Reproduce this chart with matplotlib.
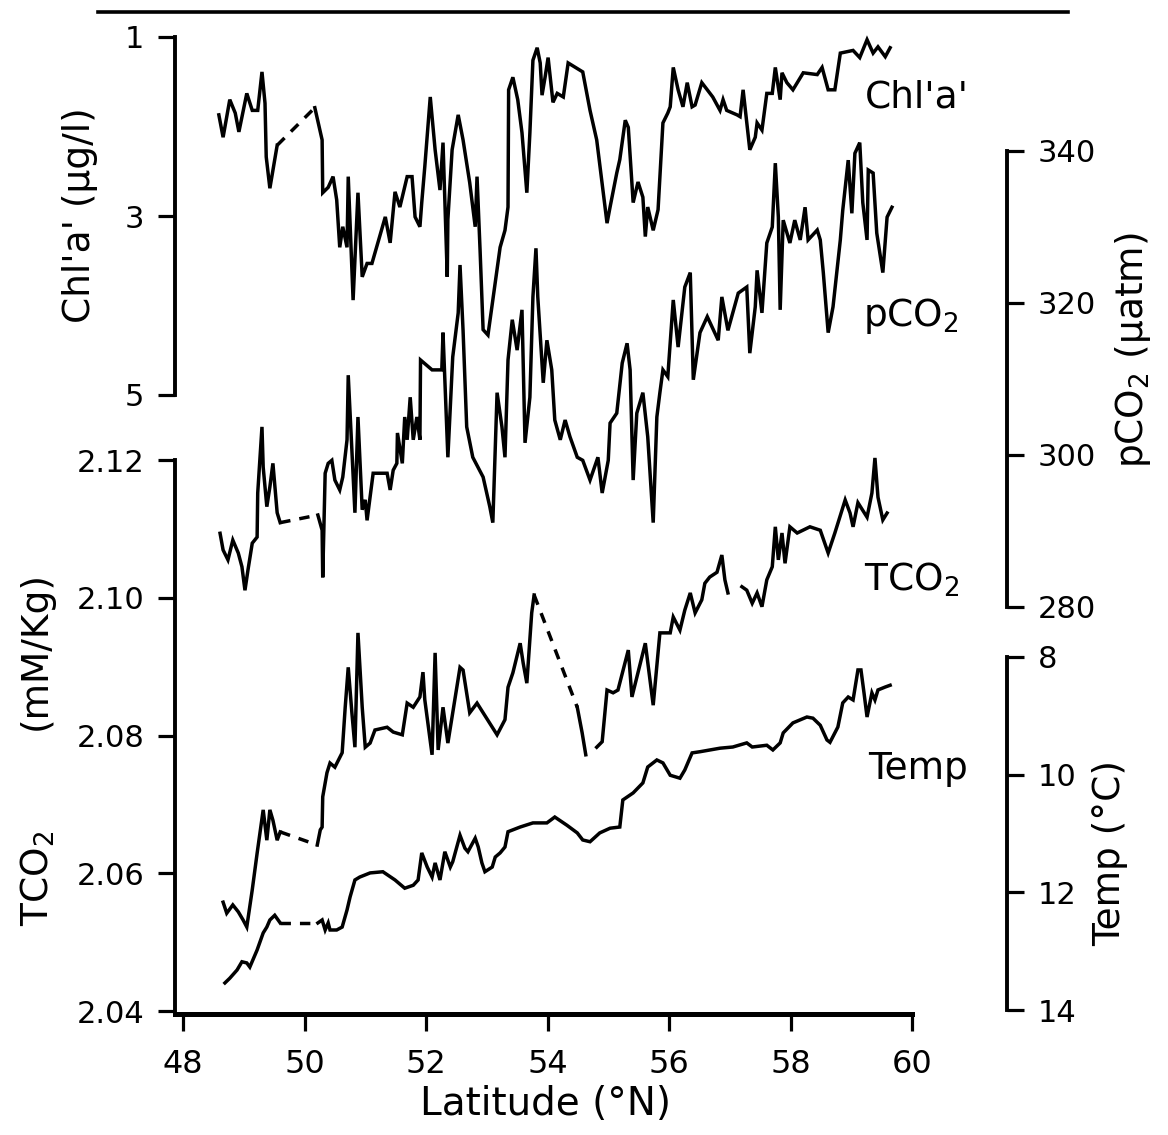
import numpy as np
import matplotlib
matplotlib.use("Agg")
import matplotlib.pyplot as plt
from matplotlib.lines import Line2D

nan = np.nan

# ---------------- data (latitude in degrees N) ----------------
chl_lat = [48.59, 48.66, 48.77, 48.86, 48.92, 49.05, 49.14, 49.23, 49.30, 49.35, 49.37, 49.43, 49.55, nan,
           50.17, 50.29, 50.30, 50.39, 50.47, 50.53, 50.58, 50.63, 50.70, 50.72, 50.80, 50.88, 50.95, 51.03,
           51.11, 51.33, 51.41, 51.49, 51.57, 51.69, 51.77, 51.82, 51.90, 51.93, 51.98, 52.07, 52.15, 52.23,
           52.28, 52.35, 52.36, 52.43, 52.53, 52.61, 52.72, 52.81, 52.84, 52.89, 52.94, 53.02, 53.10, 53.22,
           53.30, 53.35, 53.36, 53.43, 53.51, 53.58, 53.66, 53.71, 53.76, 53.83, 53.88, 53.91, 53.96, 54.01,
           54.09, 54.16, 54.26, 54.34, 54.53, 54.58, 54.70, 54.81, 54.98, 55.03, 55.14, 55.19, 55.28, 55.33,
           55.41, 55.49, 55.57, 55.61, 55.65, 55.74, 55.82, 55.90, 55.98, 56.02, 56.07, 56.15, 56.23, 56.30,
           56.38, 56.43, 56.54, 56.72, 56.84, 56.89, 56.95, 57.12, 57.17, 57.22, 57.33, 57.42, 57.45, 57.53,
           57.61, 57.70, 57.75, 57.83, 57.86, 57.94, 58.04, 58.21, 58.44, 58.52, 58.62, 58.73, 58.82, 59.03,
           59.14, 59.26, 59.36, 59.44, 59.56, 59.64]
chl_val = [1.87, 2.12, 1.70, 1.85, 2.06, 1.63, 1.82, 1.82, 1.39, 1.74, 2.34, 2.69, 2.21, nan,
           1.79, 2.15, 2.74, 2.68, 2.56, 2.82, 3.35, 3.12, 3.35, 2.56, 3.94, 2.74, 3.68, 3.53,
           3.53, 3.01, 3.30, 2.73, 2.90, 2.56, 2.56, 3.01, 3.12, 2.85, 2.45, 1.67, 2.26, 2.71,
           2.18, 3.68, 3.04, 2.26, 1.87, 2.15, 2.63, 3.12, 2.56, 3.38, 4.27, 4.33, 3.94, 3.35,
           3.16, 2.90, 1.59, 1.45, 1.70, 2.07, 2.74, 2.07, 1.26, 1.12, 1.29, 1.65, 1.45, 1.23,
           1.73, 1.63, 1.67, 1.29, 1.37, 1.39, 1.82, 2.15, 3.08, 2.90, 2.52, 2.37, 1.93, 2.01,
           2.85, 2.62, 2.79, 3.23, 2.90, 3.16, 2.93, 1.96, 1.85, 1.78, 1.34, 1.59, 1.78, 1.51,
           1.78, 1.76, 1.51, 1.67, 1.82, 1.70, 1.82, 1.87, 1.89, 1.59, 2.26, 2.12, 1.96, 2.04,
           1.63, 1.63, 1.34, 1.70, 1.40, 1.51, 1.59, 1.40, 1.42, 1.34, 1.59, 1.59, 1.18, 1.15,
           1.23, 1.03, 1.18, 1.11, 1.22, 1.12]
chl_gaps = ["dashed"]

pco2_lat = [48.61, 48.66, 48.74, 48.82, 48.91, 48.97, 49.02, 49.07, 49.14, 49.22, 49.23, 49.30, 49.32,
            49.38, 49.43, 49.48, 49.55, 49.60, nan,
            50.22, 50.29, 50.30, 50.34, 50.39, 50.45, 50.50, 50.58, 50.63, 50.70, 50.72, 50.78, 50.83,
            50.88, 50.95, 51.00, 51.03, 51.08, 51.13, 51.36, 51.41, 51.46, 51.52, 51.53, 51.61, 51.65,
            51.69, 51.74, 51.79, 51.85, 51.90, 51.91, 52.10, 52.26, 52.28, 52.36, 52.44, 52.53, 52.56,
            52.61, 52.67, 52.77, 52.94, 53.05, 53.10, 53.17, 53.25, 53.30, 53.35, 53.42, 53.50, 53.58,
            53.63, 53.71, 53.76, 53.81, 53.84, 53.93, 53.99, 54.07, 54.12, 54.21, 54.29, 54.37, 54.49,
            54.58, 54.70, 54.83, 54.90, 55.00, 55.03, 55.14, 55.23, 55.31, 55.36, 55.41, 55.47, 55.57,
            55.65, 55.74, 55.80, 55.85, 55.90, 55.98, 56.07, 56.15, 56.26, 56.35, 56.40, 56.51, 56.63,
            56.81, 56.87, 56.97, 57.14, 57.28, 57.33, 57.42, 57.45, 57.53, 57.61, 57.70, 57.75, 57.80,
            57.83, 57.88, 57.99, 58.07, 58.16, 58.24, 58.29, 58.44, 58.49, 58.54, 58.62, 58.70, 58.82,
            58.86, 58.95, 59.01, 59.06, 59.14, 59.19, 59.26, 59.28, 59.36, 59.42, 59.52, 59.59, 59.67]
pco2_val = [289.7, 287.5, 286.2, 288.8, 287.1, 285.3, 282.2, 284.9, 288.4, 289.2, 295.0, 303.7, 298.4,
            293.2, 295.8, 298.9, 292.4, 291.1, nan,
            292.1, 290.1, 283.9, 297.6, 298.9, 299.3, 296.7, 295.4, 297.1, 302.0, 310.5, 300.7, 292.4,
            305.0, 292.8, 294.1, 291.4, 294.5, 297.6, 297.6, 295.4, 298.0, 298.9, 302.9, 298.9, 305.0,
            302.0, 307.6, 302.0, 305.0, 302.0, 312.5, 311.2, 311.2, 316.1, 299.7, 312.9, 318.7, 325.0,
            316.4, 303.7, 299.7, 297.1, 293.2, 291.1, 308.2, 303.7, 299.7, 312.5, 317.8, 313.8, 319.1,
            301.6, 307.6, 320.8, 327.2, 320.8, 309.5, 315.1, 311.2, 304.6, 302.0, 304.6, 302.4, 299.7,
            299.3, 296.7, 299.7, 295.0, 299.3, 304.2, 305.5, 312.1, 314.7, 311.2, 296.7, 305.5, 308.2,
            302.4, 291.1, 305.0, 308.2, 311.2, 310.3, 320.4, 314.2, 322.1, 324.0, 309.9, 316.1, 318.2,
            315.1, 320.8, 316.4, 321.3, 322.1, 313.4, 319.5, 324.3, 318.7, 327.9, 330.0, 338.4, 331.3,
            319.1, 330.9, 327.9, 330.9, 328.3, 332.6, 328.3, 329.6, 328.3, 324.0, 316.1, 319.5, 328.3,
            332.2, 338.8, 331.8, 339.7, 341.1, 333.2, 328.3, 337.5, 337.1, 329.2, 324.0, 331.3, 332.6]
pco2_gaps = ["dashed"]

tco2_lat = [48.66, 48.72, 48.82, 48.91, 48.99, 49.05, 49.14, 49.22, 49.32, 49.38, 49.43, 49.48, 49.55,
            49.60, nan,
            50.21, 50.26, 50.29, 50.30, 50.37, 50.42, 50.50, 50.62, 50.67, 50.72, 50.78, 50.83, 50.88,
            50.95, 51.00, 51.08, 51.16, 51.36, 51.46, 51.61, 51.69, 51.79, 51.90, 51.95, 51.98, 52.10,
            52.15, 52.20, 52.28, 52.36, 52.44, 52.56, 52.61, 52.72, 52.84, 53.17, 53.30, 53.35, 53.43,
            53.55, 53.60, 53.66, 53.74, 53.78, nan,
            54.49, 54.57, 54.63, nan,
            54.81, 54.90, 54.98, 55.08, 55.16, 55.33, 55.39, 55.61, 55.74, 55.85, 56.02, 56.07, 56.18,
            56.26, 56.35, 56.43, 56.54, 56.59, 56.67, 56.79, 56.87, 56.92, 56.97, nan,
            57.20, 57.28, 57.37, 57.45, 57.53, 57.61, 57.70, 57.75, 57.80, 57.86, 57.91, 57.99, 58.11,
            58.32, 58.49, 58.62, 58.73, 58.90, 58.98, 59.03, 59.11, 59.26, 59.34, 59.39, 59.44, 59.52,
            59.59]
tco2_val = [2.0558, 2.0542, 2.0554, 2.0544, 2.0532, 2.0522, 2.0576, 2.0629, 2.0692, 2.0648, 2.0692,
            2.0677, 2.0648, 2.0660, nan,
            2.0641, 2.0663, 2.0667, 2.0711, 2.0746, 2.0760, 2.0754, 2.0775, 2.0841, 2.0899, 2.0833,
            2.0783, 2.0949, 2.0841, 2.0783, 2.0789, 2.0808, 2.0812, 2.0805, 2.0801, 2.0847, 2.0841,
            2.0856, 2.0892, 2.0852, 2.0772, 2.0920, 2.0779, 2.0841, 2.0789, 2.0833, 2.0899, 2.0895,
            2.0833, 2.0847, 2.0801, 2.0823, 2.0870, 2.0891, 2.0934, 2.0905, 2.0876, 2.0978, 2.1004, nan,
            2.0841, 2.0804, 2.0772, nan,
            2.0783, 2.0791, 2.0866, 2.0862, 2.0866, 2.0924, 2.0856, 2.0934, 2.0844, 2.0949, 2.0949,
            2.0972, 2.0953, 2.0982, 2.1007, 2.0978, 2.0997, 2.1021, 2.1030, 2.1037, 2.1062, 2.1026,
            2.1007, nan,
            2.1016, 2.1011, 2.0992, 2.1007, 2.0987, 2.1026, 2.1045, 2.1103, 2.1055, 2.1094, 2.1050,
            2.1103, 2.1094, 2.1103, 2.1098, 2.1065, 2.1094, 2.1142, 2.1123, 2.1103, 2.1138, 2.1117,
            2.1152, 2.1203, 2.1146, 2.1113, 2.1123]
tco2_gaps = ["dashed", "dashed", "none", "none"]

temp_lat = [48.69, 48.77, 48.89, 48.97, 49.05, 49.10, 49.22, 49.32, 49.38, 49.43, 49.51, 49.60, nan,
            50.22, 50.29, 50.34, 50.39, 50.42, 50.53, 50.62, 50.70, 50.75, 50.83, 50.91, 51.08, 51.29,
            51.49, 51.65, 51.79, 51.87, 51.93, 52.02, 52.10, 52.15, 52.23, 52.31, 52.40, 52.44, 52.56,
            52.64, 52.69, 52.81, 52.86, 52.92, 52.97, 53.09, 53.14, 53.22, 53.30, 53.35, 53.55, 53.76,
            53.99, 54.12, 54.32, 54.49, 54.58, 54.70, 54.86, 55.03, 55.19, 55.24, 55.41, 55.57, 55.65,
            55.80, 55.90, 56.02, 56.18, 56.26, 56.38, 56.51, 56.84, 57.05, 57.28, 57.37, 57.61, 57.71,
            57.83, 57.88, 58.04, 58.27, 58.37, 58.49, 58.60, 58.65, 58.78, 58.86, 58.95, 59.03, 59.11,
            59.16, 59.21, 59.26, 59.34, 59.39, 59.44, 59.56, 59.64]
temp_val = [13.54, 13.46, 13.32, 13.18, 13.20, 13.27, 12.98, 12.69, 12.59, 12.47, 12.39, 12.52, nan,
            12.52, 12.47, 12.64, 12.52, 12.64, 12.64, 12.59, 12.30, 12.08, 11.79, 11.74, 11.67, 11.65,
            11.79, 11.93, 11.88, 11.79, 11.33, 11.57, 11.74, 11.50, 11.79, 11.31, 11.57, 11.48, 11.03,
            11.25, 11.31, 11.08, 11.23, 11.50, 11.65, 11.57, 11.40, 11.33, 11.23, 10.97, 10.89, 10.82,
            10.82, 10.72, 10.86, 10.99, 11.11, 11.14, 10.99, 10.91, 10.89, 10.43, 10.31, 10.14, 9.87,
            9.75, 9.80, 10.01, 10.06, 9.92, 9.63, 9.61, 9.55, 9.53, 9.46, 9.53, 9.50, 9.58,
            9.46, 9.29, 9.12, 9.02, 9.04, 9.16, 9.41, 9.45, 9.19, 8.78, 8.68, 8.73, 8.22,
            8.22, 8.61, 9.02, 8.61, 8.73, 8.56, 8.51, 8.48]
temp_gaps = ["dashed"]

x_ticks = [48, 50, 52, 54, 56, 58, 60]
chl_ticks = [1, 3, 5]
tco2_ticks = [2.04, 2.06, 2.08, 2.10, 2.12]
tco2_ticklabels = ["2.04", "2.06", "2.08", "2.10", "2.12"]
pco2_ticks = [280, 300, 320, 340]
temp_ticks = [8, 10, 12, 14]

# ---------------- layout ----------------
plt.rcParams["font.family"] = ["DejaVu Sans"]
W, H = 1168, 1135
fig = plt.figure(figsize=(W / 100, H / 100), dpi=100)
fig.patch.set_facecolor("white")

L, R, T, B = 175, 912, 20, 1014
rect = [L / W, 1 - B / H, (R - L) / W, (B - T) / H]


def lim(v1, p1, v2, p2, a, b):
    s = (v2 - v1) / (p2 - p1)
    return v1 + (a - p1) * s, v1 + (b - p1) * s


SPW = 2.8
LW = 2.5
TICK = dict(direction="out", length=12, width=2.3, labelsize=22, pad=10, colors="black")


def style(a, keep):
    a.patch.set_visible(False)
    for s in ["top", "right", "left", "bottom"]:
        a.spines[s].set_visible(s in keep)
        a.spines[s].set_linewidth(SPW)


def draw(a, lat, val, gaps):
    lat = np.asarray(lat, float)
    val = np.asarray(val, float)
    a.plot(lat, val, color="black", lw=LW, solid_joinstyle="miter")
    idx = np.where(np.isnan(lat))[0]
    for k, i in enumerate(idx):
        if gaps[k] == "dashed":
            a.plot([lat[i - 1], lat[i + 1]], [val[i - 1], val[i + 1]], color="black",
                   lw=LW, linestyle=(0, (3.0, 2.6)))


# TCO2 axes (also carries the latitude axis)
ax = fig.add_axes(rect)
style(ax, ["left", "bottom"])
ax.spines["bottom"].set_linewidth(3.6)
ax.set_xlim(*lim(48, 183, 60, 912, L, R))
ax.set_ylim(*lim(2.04, 1011, 2.12, 460, B, T))
ax.spines["left"].set_bounds(ax.get_ylim()[0], 2.12)
ax.set_xticks(x_ticks)
ax.set_xticklabels([str(v) for v in x_ticks])
ax.set_yticks(tco2_ticks)
ax.set_yticklabels(tco2_ticklabels)
ax.tick_params(axis="both", **TICK)
ax.tick_params(axis="x", pad=13, labelsize=23)
draw(ax, tco2_lat, tco2_val, tco2_gaps)

# Chl'a' axes
ax_c = fig.add_axes(rect, sharex=ax)
style(ax_c, ["left"])
ax_c.set_ylim(*lim(1, 37, 5, 395, B, T))
ax_c.spines["left"].set_bounds(1, 5)
ax_c.set_yticks(chl_ticks)
ax_c.set_yticklabels([str(v) for v in chl_ticks])
ax_c.tick_params(axis="y", **TICK)
ax_c.tick_params(axis="x", bottom=False, labelbottom=False)
draw(ax_c, chl_lat, chl_val, chl_gaps)

# right-hand spines position
rpos = (1007 - L) / (R - L)

# pCO2 axes
ax_p = fig.add_axes(rect, sharex=ax)
style(ax_p, ["right"])
ax_p.spines["right"].set_position(("axes", rpos))
ax_p.yaxis.tick_right()
ax_p.set_ylim(*lim(280, 607, 340, 151, B, T))
ax_p.spines["right"].set_bounds(280, 340)
ax_p.set_yticks(pco2_ticks)
ax_p.set_yticklabels([str(v) for v in pco2_ticks])
ax_p.tick_params(axis="y", **TICK)
ax_p.tick_params(axis="x", bottom=False, labelbottom=False)
draw(ax_p, pco2_lat, pco2_val, pco2_gaps)

# Temperature axes
ax_t = fig.add_axes(rect, sharex=ax)
style(ax_t, ["right"])
ax_t.spines["right"].set_position(("axes", rpos))
ax_t.yaxis.tick_right()
ax_t.set_ylim(*lim(8, 657, 14, 1010, B, T))
ax_t.spines["right"].set_bounds(8, 14)
ax_t.set_yticks(temp_ticks)
ax_t.set_yticklabels([str(v) for v in temp_ticks])
ax_t.tick_params(axis="y", **TICK)
ax_t.tick_params(axis="x", bottom=False, labelbottom=False)
draw(ax_t, temp_lat, temp_val, temp_gaps)


def ftext(px, py, s, **kw):
    fig.text(px / W, 1 - py / H, s, **kw)


# axis titles
ftext(546, 1104, "Latitude (°N)", fontsize=28, ha="center", va="center")
ftext(80, 215, "Chl'a' (μg/l)", fontsize=27, rotation=90, ha="center", va="center")
ftext(38, 878, "TCO$_2$", fontsize=27, rotation=90, ha="center", va="center")
ftext(36, 650, "(mM/Kg)", fontsize=27, rotation=90, ha="center", va="center")
ftext(1133, 350, "pCO$_2$ (μatm)", fontsize=27, rotation=90, ha="center", va="center")
ftext(1110, 853, "Temp (°C)", fontsize=27, rotation=90, ha="center", va="center")

# in-plot series labels
ftext(865, 97, "Chl'a'", fontsize=27, ha="left", va="center")
ftext(863, 316, "pCO$_2$", fontsize=27, ha="left", va="center")
ftext(864, 580, "TCO$_2$", fontsize=27, ha="left", va="center")
ftext(868, 769, "Temp", fontsize=27, ha="left", va="center")

# rule across the top of the page
fig.add_artist(Line2D([98 / W, 1068 / W], [1 - 12 / H, 1 - 12 / H],
                      transform=fig.transFigure, color="black", lw=2.6))

fig.savefig("out.png", dpi=100, facecolor="white")
